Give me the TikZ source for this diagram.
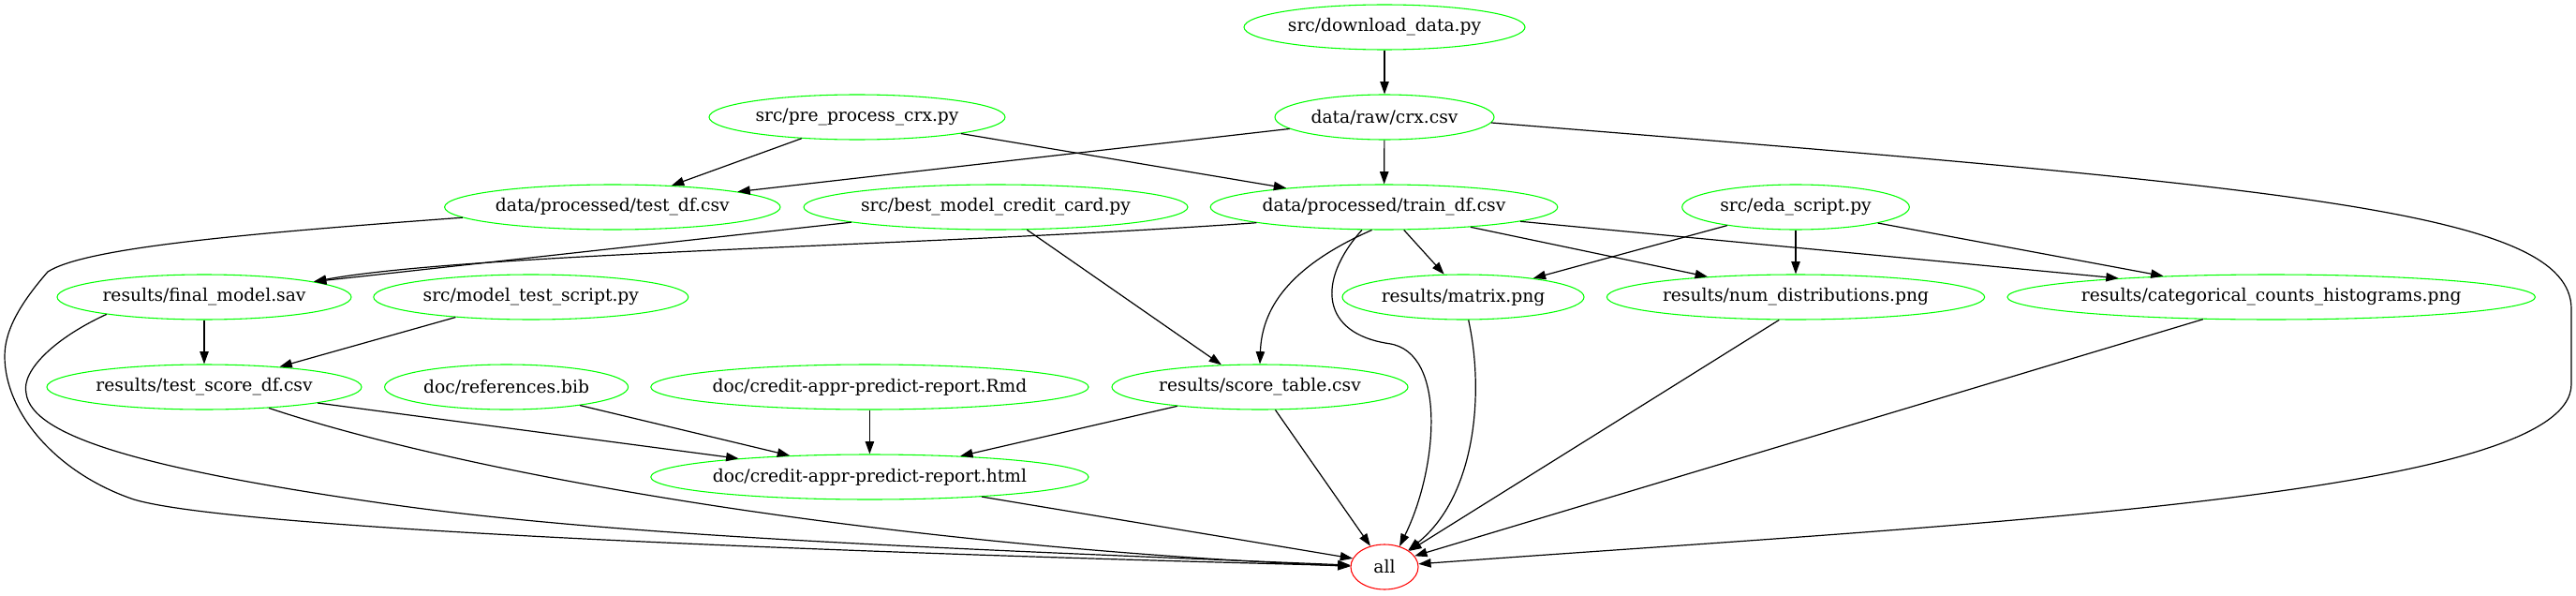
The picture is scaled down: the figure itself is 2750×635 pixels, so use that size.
\documentclass[tikz,border=0pt]{standalone}
\usepackage{fontspec}
\setmainfont{DejaVu Serif}
\usetikzlibrary{shapes.geometric,arrows.meta}
\definecolor{gvgreen}{RGB}{0,255,0}
\definecolor{gvred}{RGB}{255,0,0}
\newcommand{\lbl}[1]{\makebox[0pt][c]{#1}}
\begin{document}
\begin{tikzpicture}[x=0.75pt,y=-0.75pt,
  gn/.style={ellipse, draw=gvgreen, line width=0.8pt, minimum height=36pt, inner sep=0pt, font=\fontsize{14}{16}\selectfont},
  gr/.style={gn, draw=gvred},
  conn/.style={line width=0.9pt, -{Triangle[length=10pt,width=7pt]}}]
\useasboundingbox (0,0) rectangle (2750,635);
% row 0
\node[gn, minimum width=225pt] (download) at (1478,29) {\lbl{src/download\_data.py}};
% row 1
\node[gn, minimum width=237pt] (pre) at (915,125) {\lbl{src/pre\_process\_crx.py}};
\node[gn, minimum width=175.5pt] (crx) at (1478,125) {\lbl{data/raw/crx.csv}};
% row 2
\node[gn, minimum width=268.8pt] (testdf) at (653.8,221) {\lbl{data/processed/test\_df.csv}};
\node[gn, minimum width=307.5pt] (best) at (1063,221) {\lbl{src/best\_model\_credit\_card.py}};
\node[gn, minimum width=278pt] (traindf) at (1477.5,221) {\lbl{data/processed/train\_df.csv}};
\node[gn, minimum width=182pt] (eda) at (1917,221) {\lbl{src/eda\_script.py}};
% row 3
\node[gn, minimum width=235.5pt] (final) at (218,317) {\lbl{results/final\_model.sav}};
\node[gn, minimum width=252pt] (mts) at (566.8,317) {\lbl{src/model\_test\_script.py}};
\node[gn, minimum width=193.5pt] (matrix) at (1562,317) {\lbl{results/matrix.png}};
\node[gn, minimum width=302.5pt] (num) at (1917,317) {\lbl{results/num\_distributions.png}};
\node[gn, minimum width=422.7pt] (cat) at (2424.7,317) {\lbl{results/categorical\_counts\_histograms.png}};
% row 4
\node[gn, minimum width=252pt] (tscore) at (218,413) {\lbl{results/test\_score\_df.csv}};
\node[gn, minimum width=195pt] (refs) at (540.6,413) {\lbl{doc/references.bib}};
\node[gn, minimum width=350.5pt] (rmd) at (928.4,413) {\lbl{doc/credit-appr-predict-report.Rmd}};
\node[gn, minimum width=237pt] (score) at (1345,413) {\lbl{results/score\_table.csv}};
% row 5
\node[gn, minimum width=350.5pt] (html) at (928.4,509) {\lbl{doc/credit-appr-predict-report.html}};
% row 6
\node[gr, minimum width=54pt] (all) at (1478,605) {\lbl{all}};

% edges
\draw[conn] (download) -- (crx);
\draw[conn] (crx.187.2) -- (testdf.7);
\draw[conn] (crx) -- (traindf);
\draw[conn] (crx.-3.6) .. controls (2450,200) and (2745,225) .. (2745,330) -- (2745,410) .. controls (2745,530) and (2100,559) .. (all.5);
\draw[conn] (pre.201) -- (testdf.20.7);
\draw[conn] (pre.-9.9) -- (traindf.169.9);
\draw[conn] (testdf.184.2) .. controls (250,250) and (90,265) .. (51,290) .. controls (25,320) and (5,350) .. (5,380) .. controls (5,440) and (60,505) .. (143,533) .. controls (250,565) and (900,590) .. (all.178);
\draw[conn] (best.186.5) -- (final.8.8);
\draw[conn] (traindf.187.8) .. controls (1000,262) and (500,270) .. (final.8.8);
\draw[conn] (best.-36) -- (score.150);
\draw[conn] (traindf.242) .. controls (1375,285) and (1347,330) .. (score.north);
\draw[conn] (traindf.-134) .. controls (1405,300) and (1410,356) .. (1483,366.7) .. controls (1545,376) and (1535,500) .. (all.54);
\draw[conn] (traindf.-49.6) -- (matrix.130);
\draw[conn] (traindf.-13.1) -- (num.167.8);
\draw[conn] (traindf.-6) -- (cat.173.9);
\draw[conn] (eda.195.5) -- (matrix.15.8);
\draw[conn] (eda) -- (num);
\draw[conn] (eda.-11.5) -- (cat.169);
\draw[conn] (final) -- (tscore);
\draw[conn] (final.190.6) .. controls (60,360) and (22,395) .. (28,420) .. controls (34,465) and (150,500) .. (408,537) .. controls (650,572) and (1000,585) .. (all.177);
\draw[conn] (mts.195.7) -- (tscore.15.5);
\draw[conn] (tscore.-8.1) -- (html.172.2);
\draw[conn] (tscore.-18) .. controls (480,500) and (900,580) .. (all.179);
\draw[conn] (refs.-14.1) -- (html.165.6);
\draw[conn] (rmd) -- (html);
\draw[conn] (score.193) -- (html.13.7);
\draw[conn] (score.-56.6) -- (all.124);
\draw[conn] (matrix.-77) .. controls (1585,420) and (1575,530) .. (all.35);
\draw[conn] (num.234.8) -- (all.33);
\draw[conn] (cat.198) -- (all.20);
\draw[conn] (html.-10.4) -- (all.165);
\end{tikzpicture}
\end{document}
